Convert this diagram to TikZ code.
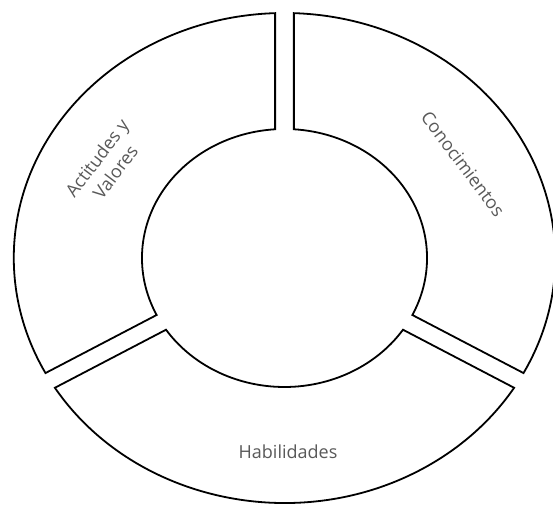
\documentclass[tikz,border=0pt]{standalone}
\usepackage{fontspec}
\setmainfont{Open Sans}
\usepackage{tikz}

\definecolor{labelgray}{RGB}{89,89,89}

\tikzset{
  segment/.style={draw=black, line width=1.8pt, line join=miter, fill=white},
  seglabel/.style={text=labelgray, font=\fontsize{18}{23}\selectfont, align=center, inner sep=0pt}
}

% one block of the ring: start angle, end angle (gaps of constant width)
\newcommand{\ringpart}[2]{%
  \draw[segment] ({#1+1.988}:245pt) arc[start angle={#1+1.988}, end angle={#2-1.988}, radius=245pt]
    -- ({#2-3.778}:129pt) arc[start angle={#2-3.778}, end angle={#1+3.778}, radius=129pt] -- cycle;
}

\begin{document}
\begin{tikzpicture}[x=1pt, y=1pt]
    \useasboundingbox (0,0) rectangle (553,506);

    % ring blocks
    \begin{scope}[shift={(284.5,248)}, xscale=1.105]
    \ringpart{-30}{90}
    \ringpart{90}{210}
    \ringpart{210}{330}
    \end{scope}

    % labels
    \node[seglabel, rotate=-53] (conocimientos) at (463,342) {Conocimientos};

    \node[seglabel, rotate=53] (actitudes) at (106,341) {Actitudes y\\ Valores};

    \node[seglabel] (habilidades) at (288,54) {Habilidades};

\end{tikzpicture}
\end{document}
